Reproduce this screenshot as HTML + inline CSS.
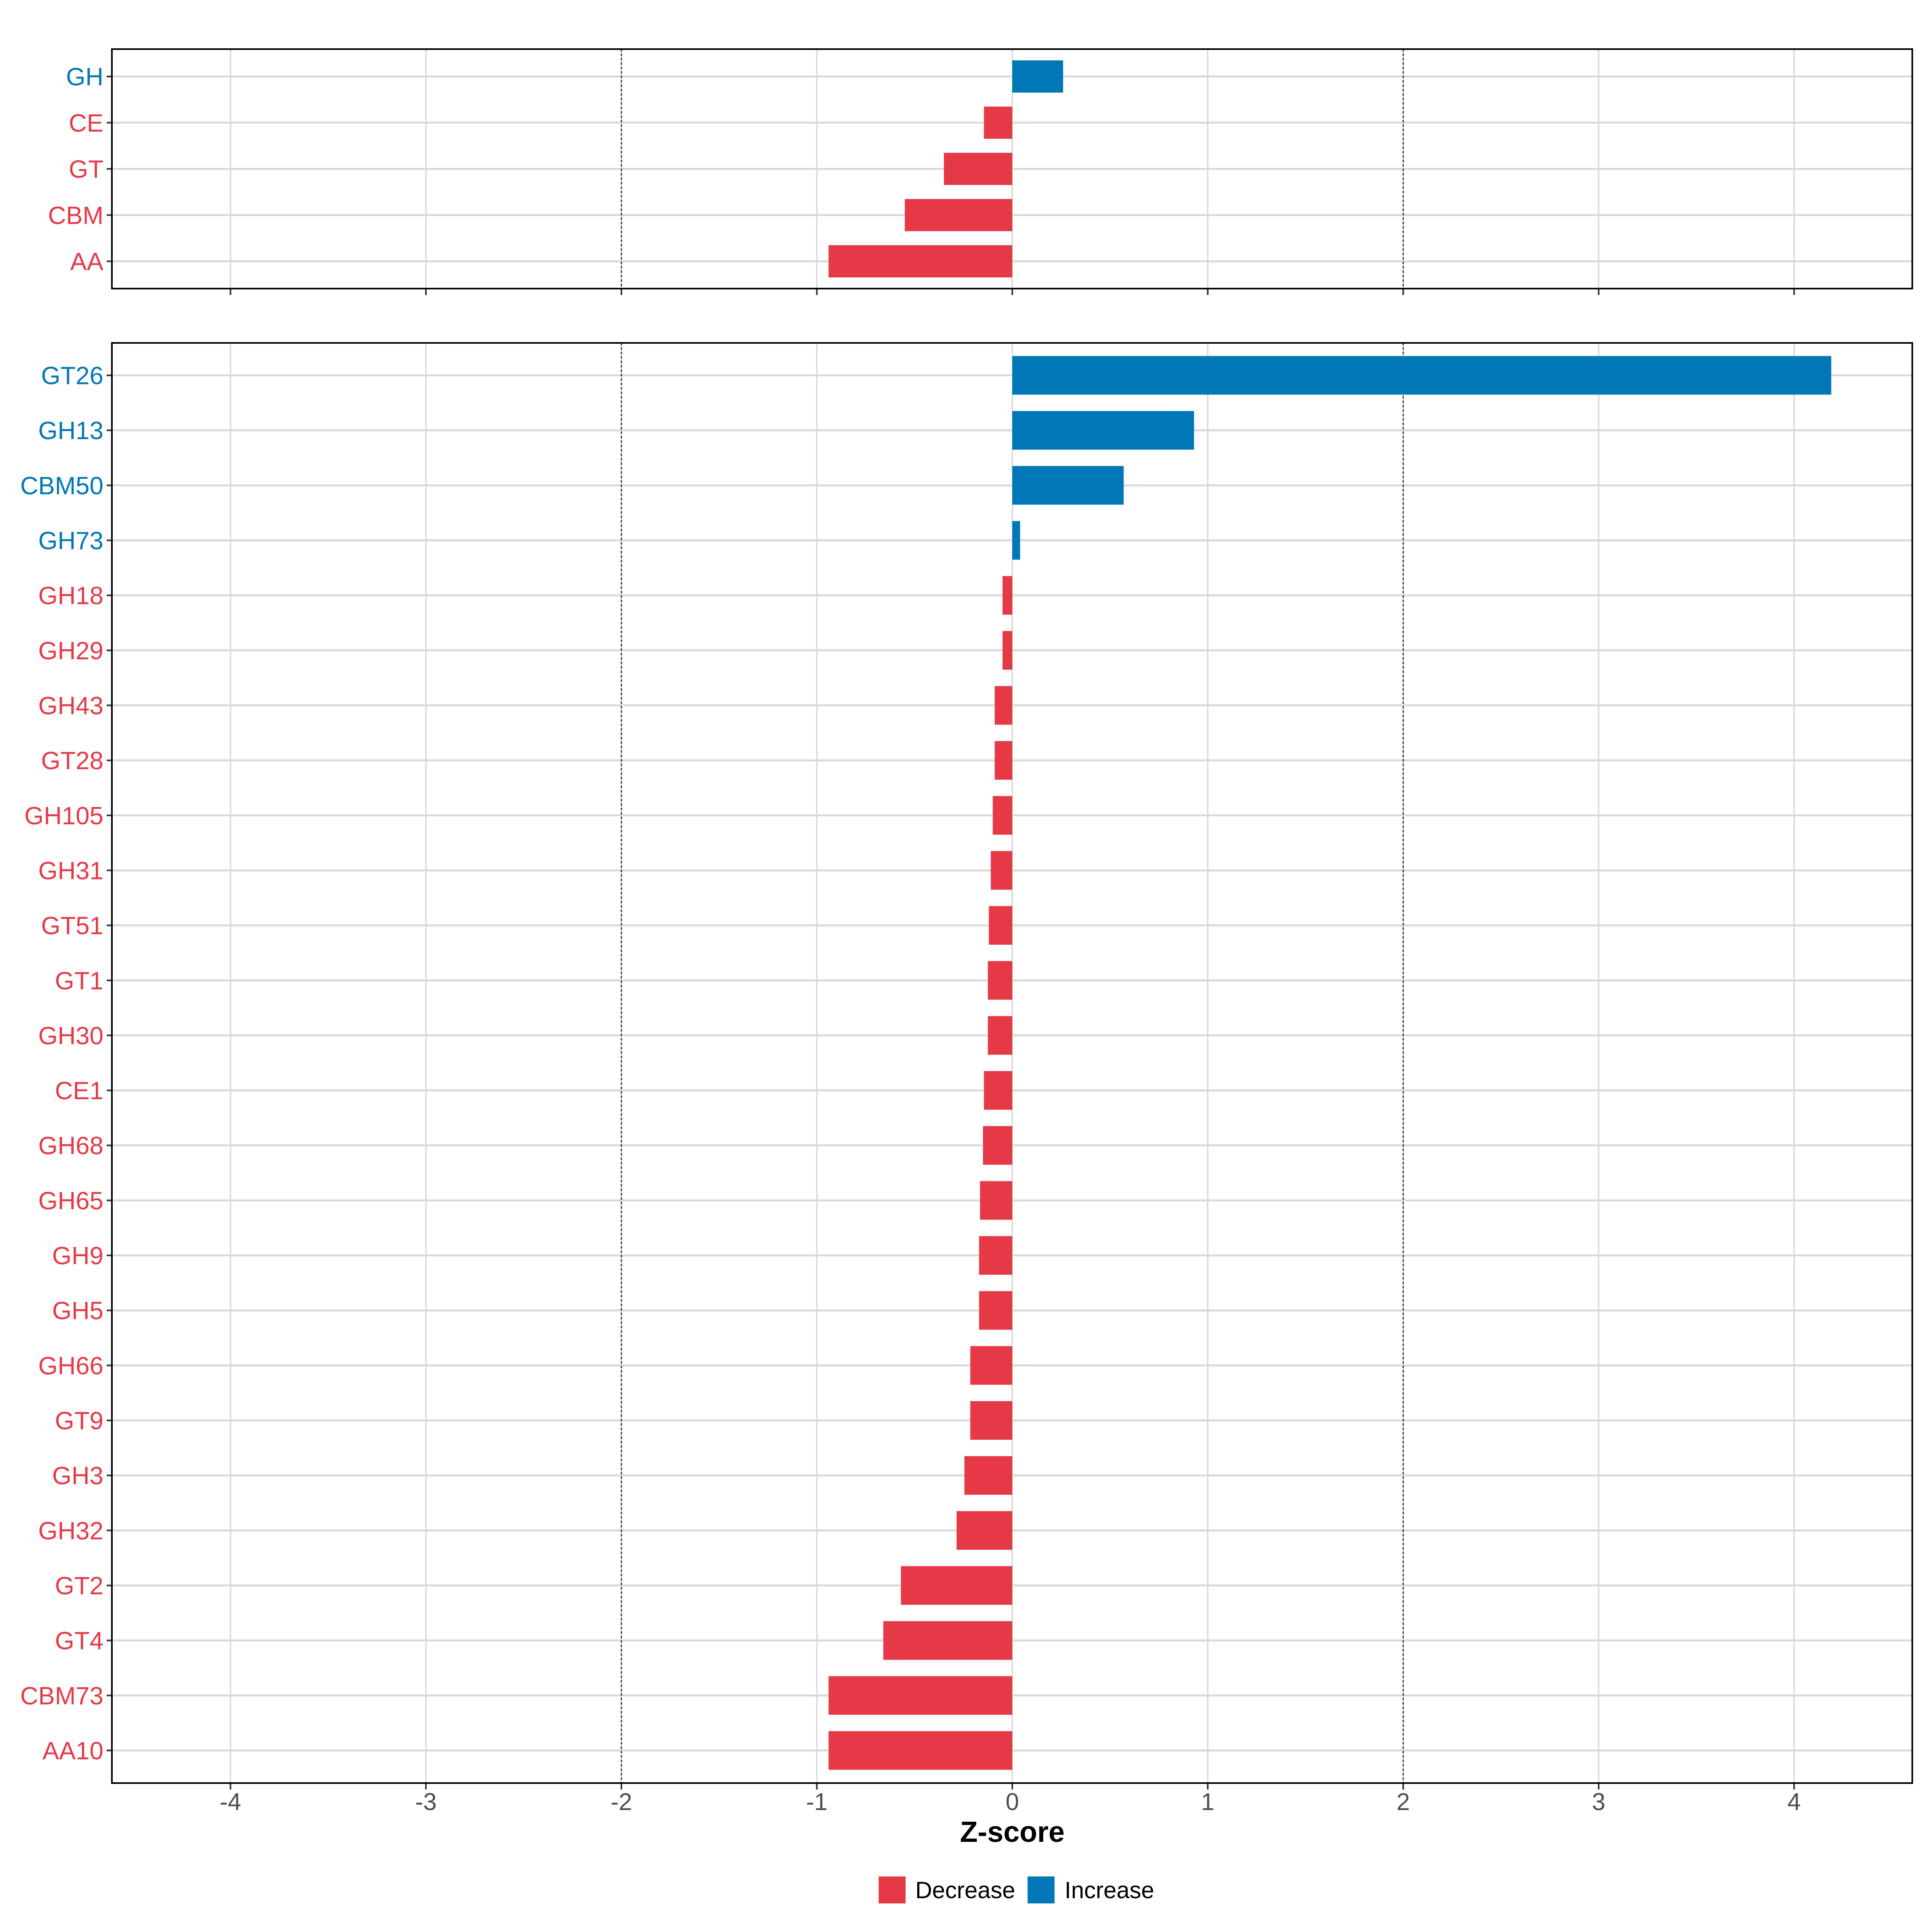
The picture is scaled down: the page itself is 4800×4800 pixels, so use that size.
<!DOCTYPE html>
<html><head><meta charset="utf-8"><style>html,body{margin:0;padding:0;background:#fff;}svg{display:block;}</style></head>
<body>
<svg id="chart" width="4800" height="4800" viewBox="0 0 4800 4800" xmlns="http://www.w3.org/2000/svg" font-family="Liberation Sans, sans-serif"></svg>
<script>
const topCategories = ["GH","CE","GT","CBM","AA"];
const topValues = [0.26,-0.145,-0.35,-0.55,-0.94];
const bottomCategories = ["GT26","GH13","CBM50","GH73","GH18","GH29","GH43","GT28","GH105","GH31","GT51","GT1","GH30","CE1","GH68","GH65","GH9","GH5","GH66","GT9","GH3","GH32","GT2","GT4","CBM73","AA10"];
const bottomValues = [4.19,0.93,0.57,0.04,-0.05,-0.05,-0.09,-0.09,-0.10,-0.11,-0.12,-0.125,-0.125,-0.145,-0.15,-0.165,-0.17,-0.17,-0.215,-0.215,-0.245,-0.285,-0.57,-0.66,-0.94,-0.94];
const xTicks = [-4,-3,-2,-1,0,1,2,3,4];
const thresholds = [-2,2];

const RED="#E63946", BLUE="#0077B6";
const svg=document.getElementById('chart');
const NS="http://www.w3.org/2000/svg";
const L=278, R=4751, X0=2515, UNIT=485.6;
const xs=v=>X0+v*UNIT;
function mk(tag,attrs,parent){const e=document.createElementNS(NS,tag);for(const k in attrs)e.setAttribute(k,attrs[k]);(parent||svg).appendChild(e);return e;}

function panel(name,cats,vals,top,bottom,firstY,step,barH){
  const g=mk('g',{});
  
  
  xTicks.forEach(t=>{const l=mk('line',{x1:xs(t),x2:xs(t),y1:top,y2:bottom,stroke:'#d9d9d9','stroke-width':3.5},g);
    });
  cats.forEach((c,i)=>{const y=firstY+i*step;
    const l=mk('line',{x1:L,x2:R,y1:y,y2:y,stroke:'#d9d9d9','stroke-width':5},g);
    });
  thresholds.forEach(t=>{const l=mk('line',{x1:xs(t),x2:xs(t),y1:top,y2:bottom,stroke:'#333','stroke-width':3,'stroke-dasharray':'6,5'},g);
    });
  cats.forEach((c,i)=>{const y=firstY+i*step,v=vals[i];const col=v>=0?BLUE:RED;
    const b=mk('rect',{x:Math.min(xs(0),xs(v)),y:y-barH/2,width:Math.abs(xs(v)-xs(0)),height:barH,fill:col},g);
    
    const tk=mk('line',{x1:265,x2:L,y1:y,y2:y,stroke:'#333','stroke-width':4},g);
    
    const t=mk('text',{x:257,y:y+22,'text-anchor':'end','font-size':62,fill:col},g);t.textContent=c;
    });
  xTicks.forEach(t=>{const l=mk('line',{x1:xs(t),x2:xs(t),y1:bottom,y2:bottom+16,stroke:'#333','stroke-width':4},g);
    });
  const f=mk('rect',{x:L,y:top,width:R-L,height:bottom-top,fill:'none',stroke:'#000','stroke-width':4},g);
  
}
panel('top-panel',topCategories,topValues,122,717,190,114.8,80);
panel('bottom-panel',bottomCategories,bottomValues,852,4430,932.5,136.66,96);

xTicks.forEach(t=>{const e=mk('text',{x:xs(t),y:4497,'text-anchor':'middle','font-size':60,fill:'#4d4d4d'});e.textContent=String(t);
  });
const xt=mk('text',{x:xs(0),y:4576,'text-anchor':'middle','font-size':72,'font-weight':'bold',fill:'#000'});xt.textContent='Z-score';


const lg=mk('g',{});
[[2183,RED,'Decrease',2274],[2553,BLUE,'Increase',2645]].forEach(([x,c,lab,tx])=>{
  const r=mk('rect',{x:x,y:4662,width:67,height:67,fill:c},lg);
  
  const t=mk('text',{x:tx,y:4716,'font-size':58,fill:'#000'},lg);t.textContent=lab;
  
});
</script>
</body></html>
